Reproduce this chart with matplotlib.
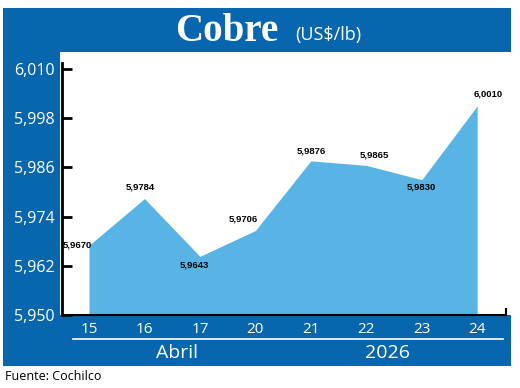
import matplotlib.pyplot as plt
from matplotlib.patches import Rectangle
from matplotlib.lines import Line2D

# ----------------------------- data -----------------------------
dias = ['15', '16', '17', '20', '21', '22', '23', '24']
precios = [5.9670, 5.9784, 5.9643, 5.9706, 5.9876, 5.9865, 5.9830, 6.0010]
etiquetas = ['5,9670', '5,9784', '5,9643', '5,9706', '5,9876', '5,9865', '5,9830', '6,0010']
y_ticks = [5.950, 5.962, 5.974, 5.986, 5.998, 6.010]
y_tick_labels = ['5,950', '5,962', '5,974', '5,986', '5,998', '6,010']
mes = 'Abril'
anio = '2026'

# ----------------------------- style ----------------------------
AZUL = '#0766ae'
CELESTE = '#58b4e4'
SANS = ['Open Sans', 'DejaVu Sans']
NARROW = ['Liberation Sans', 'DejaVu Sans']

# label placement: (dx pt, dy pt, ha, va)
offsets = [(2, 0, 'right', 'center'),
           (-3, 5, 'center', 'bottom'),
           (-4, -3, 'center', 'top'),
           (2, 5, 'right', 'bottom'),
           (0, 4, 'center', 'bottom'),
           (6, 4, 'center', 'bottom'),
           (0, -2, 'center', 'top'),
           (8, 5, 'center', 'bottom')]

W, H = 520, 388
fig = plt.figure(figsize=(W / 100, H / 100), dpi=100)
fig.patch.set_facecolor('white')

# background frame drawn in pixel coordinates
bg = fig.add_axes([0, 0, 1, 1])
bg.set_xlim(0, W)
bg.set_ylim(H, 0)
bg.set_axis_off()
bg.add_patch(Rectangle((3, 8), 508, 44, color=AZUL, lw=0))     # title band
bg.add_patch(Rectangle((3, 8), 57, 358, color=AZUL, lw=0))     # left column
bg.add_patch(Rectangle((3, 315), 508, 51, color=AZUL, lw=0))   # bottom band
bg.add_line(Line2D([73, 503], [339, 339], color='white', lw=1.2))

bg.text(175, 41, 'Cobre', color='white', fontsize=28, fontweight='bold',
        family=['Liberation Serif', 'DejaVu Serif'], ha='left', va='baseline')
bg.text(295, 40, '(US$/lb)', color='white', fontsize=13, family=SANS,
        ha='left', va='baseline')
bg.text(177, 353, mes, color='white', fontsize=14, family=SANS, ha='center', va='center')
bg.text(387, 353, anio, color='white', fontsize=14, family=SANS, ha='center', va='center')
bg.text(5, 377, 'Fuente: Cochilco', color='black', fontsize=9, family=SANS,
        ha='left', va='center')

# ----------------------------- chart ----------------------------
ax = fig.add_axes([62 / W, 1 - 315 / H, 444 / W, 263 / H])
ax.patch.set_alpha(0)
x = list(range(len(dias)))
ax.fill_between(x, precios, 5.950, color=CELESTE, lw=0)

ax.set_xlim(-0.487, 7.52)
ax.set_ylim(5.950, 6.01415)

for sp in ('top', 'right'):
    ax.spines[sp].set_visible(False)
ax.spines['left'].set_bounds(5.950, 6.0115)
ax.spines['left'].set_linewidth(2)
ax.spines['bottom'].set_linewidth(1.5)

ax.set_yticks(y_ticks)
ax.set_yticklabels(y_tick_labels, family=SANS, fontsize=11.5, color='white')
ax.tick_params(axis='y', direction='in', length=7, width=2, pad=5)

ax.set_xticks(x)
ax.set_xticklabels(dias, family=SANS, fontsize=11, color='white')
ax.tick_params(axis='x', which='major', length=0, pad=5)
ax.set_xticks([7.52], minor=True)
ax.tick_params(axis='x', which='minor', direction='in', length=5, width=1.5)

for i, (val, lab) in enumerate(zip(precios, etiquetas)):
    dx, dy, ha, va = offsets[i]
    ax.annotate(lab, (i, val), xytext=(dx, dy), textcoords='offset points',
                ha=ha, va=va, fontsize=6.8, fontweight='bold', family=NARROW,
                color='black')

fig.savefig('out.png', dpi=100)
